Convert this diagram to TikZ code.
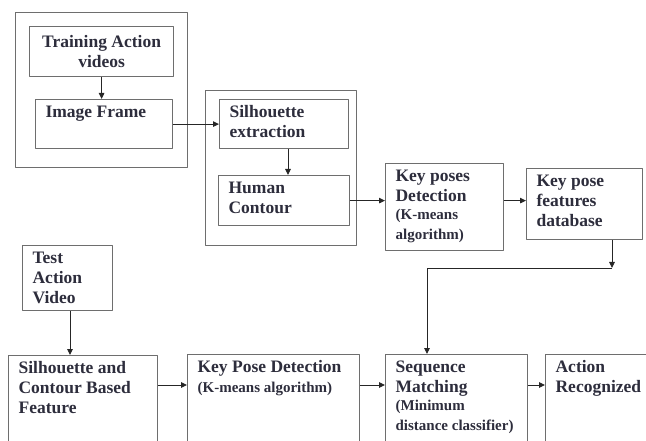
\documentclass[tikz,border=0pt]{standalone}
\usepackage{fontspec}
\setmainfont{Liberation Serif}
\usetikzlibrary{arrows.meta}
\definecolor{boxgray}{RGB}{110,110,110}
\definecolor{txtcol}{RGB}{45,45,60}
\newcommand{\smtxt}{\fontsize{15}{18}\selectfont}
\newcommand{\bt}[3]{\parbox[t][#2][t]{#1}{\raggedright #3}}
\begin{document}
\begin{tikzpicture}[x=1pt, y=-1pt, line join=round, >={Triangle[length=6pt,width=5.5pt]}]
	\tikzset{blk/.style={draw=boxgray, line width=1.2pt, anchor=north west, inner xsep=10pt, inner ysep=6pt, text=txtcol, font=\fontsize{17.5}{20}\selectfont\bfseries},
		grp/.style={draw=boxgray, line width=1.2pt, anchor=north west, inner sep=0pt},
		arr/.style={->, line width=0.9pt, draw=black!85}}
	\clip (0,0) rectangle (646,441);
	% training part
	\node[grp, minimum width=172pt, minimum height=155pt] (grpA) at (15,12) {};
	\node[blk, inner sep=0pt, minimum width=144pt, minimum height=50pt, align=center] (train) at (29,26) {Training Action\\videos};
	\node[blk] (frame) at (35,99) {\bt{117pt}{37pt}{Image Frame}};
	\node[grp, minimum width=151pt, minimum height=155pt] (grpB) at (205,90) {};
	\node[blk] (silh) at (219,99) {\bt{109pt}{37pt}{Silhouette\\extraction}};
	\node[blk] (human) at (218,175) {\bt{111pt}{38pt}{Human\\Contour}};
	\node[blk] (keyposes) at (385,163) {\bt{98pt}{75pt}{Key poses\\Detection\\{\smtxt(K-means\\algorithm)}}};
	\node[blk] (kpdb) at (526,168) {\bt{96pt}{59pt}{Key pose\\features\\database}};
	% testing part
	\node[blk] (test) at (22,245) {\bt{70pt}{53pt}{Test\\Action\\Video}};
	\node[blk] (feat) at (8,355) {\bt{129pt}{93pt}{Silhouette and\\Contour Based\\Feature}};
	\node[blk] (kpd) at (187,354) {\bt{152pt}{93pt}{Key Pose Detection\\{\smtxt(K-means algorithm)}}};
	\node[blk] (seq) at (385,354) {\bt{122pt}{93pt}{Sequence\\Matching\\{\smtxt(Minimum\\distance classifier)}}};
	\node[blk] (act) at (545,354) {\bt{95pt}{93pt}{Action\\Recognized}};
	\coordinate (row) at (0,385);
	\coordinate (jr) at (612,268);
	\coordinate (jl) at (427,268);
	% connectors
	\draw[arr] (train.south) -- (train.south |- frame.north);
	\draw[arr] (frame.east) -- (silh.west);
	\draw[arr] (silh.south -| 288,0) -- (human.north -| 288,0);
	\draw[arr] (human.east) -- (human.east -| keyposes.west);
	\draw[arr] (keyposes.east |- human.east) -- (kpdb.west |- human.east);
	\draw[arr] (kpdb.south -| jr) -- (jr);
	\draw[arr] (jr) -- (jl) -- (jl |- seq.north);
	\draw[arr] (test.south -| 70,0) -- (feat.north -| 70,0);
	\draw[arr] (feat.east |- row) -- (kpd.west |- row);
	\draw[arr] (kpd.east |- row) -- (seq.west |- row);
	\draw[arr] (seq.east |- row) -- (act.west |- row);
\end{tikzpicture}
\end{document}
